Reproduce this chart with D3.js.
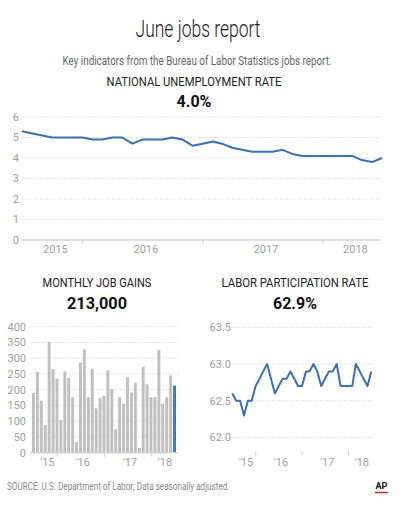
<!DOCTYPE html>
<html>
<head>
<meta charset="utf-8">
<script src="https://cdn.jsdelivr.net/npm/d3@7"></script>
<style>
  body { margin: 0; background: #fff; }
  text { font-family: Roboto, "Noto Sans", sans-serif; }
  .tick-label { fill: #a0a0a0; font-size: 11px; }
  .grid { stroke: #dcdcdc; stroke-width: 1; stroke-dasharray: 1.5 1.5; }
  .base { stroke: #d4d4d4; stroke-width: 1.5; }
  .tick { stroke: #cfcfcf; stroke-width: 1; }
  .line { fill: none; stroke: #3b6fb6; stroke-width: 2; stroke-linejoin: round; }
  .title { fill: #1a1a1a; font-size: 23px; font-weight: 300; }
  .sub { fill: #666; font-size: 13px; }
  .head { fill: #222; font-size: 12px; }
  .big { fill: #111; font-size: 17px; font-weight: 700; }
  .source { fill: #8a8a8a; font-size: 11px; }
</style>
</head>
<body>
<svg id="chart" width="400" height="511"></svg>
<script>
/* June jobs report — three small panels, data read off the AP graphic.
   Months run Jun 2015 .. Jun 2018 (37 points). */

const MONTHS = d3.timeMonth.range(new Date(2015, 5, 1), new Date(2018, 6, 1));

// national unemployment rate, %
const UNEMP = [5.3,5.2,5.1,5.0,5.0,5.0,5.0,4.9,4.9,5.0,5.0,4.7,4.9,4.9,4.9,5.0,4.9,
               4.6,4.7,4.8,4.7,4.5,4.4,4.3,4.3,4.3,4.4,4.2,4.1,4.1,4.1,4.1,4.1,4.1,
               3.9,3.8,4.0];

// monthly job gains, thousands
const JOBS = [190,257,165,88,352,266,235,104,258,237,176,34,287,328,176,266,141,174,
              181,261,202,74,176,156,240,191,222,15,273,217,176,177,326,156,176,245,213];

// labor force participation rate, %
const PART = [62.6,62.5,62.5,62.3,62.5,62.5,62.7,62.8,62.9,63.0,62.8,62.6,62.7,62.8,
              62.8,62.9,62.8,62.7,62.7,62.9,62.9,63.0,62.9,62.7,62.8,62.9,62.9,63.0,
              62.7,62.7,62.7,62.7,63.0,62.9,62.8,62.7,62.9];

const UNEMP_TICKS = [0,1,2,3,4,5,6];
const JOBS_TICKS  = [0,50,100,150,200,250,300,350,400];
const PART_TICKS  = [62.0,62.5,63.0,63.5];
const YEARS = [2015,2016,2017,2018];

const svg = d3.select("#chart");

// each monthly value is stamped at month end, so Jan 1 ticks sit on the Dec point
const monthEnd = m => d3.timeDay.offset(d3.timeMonth.offset(m, 1), -1);
const first = monthEnd(MONTHS[0]), last = monthEnd(MONTHS[MONTHS.length-1]);

/* squeeze a text horizontally to a given width (the AP face is condensed) */
function condensed(cls, cx, y, w, anchor, str){
  const t = svg.append("text").attr("class",cls).attr("text-anchor",anchor).text(str);
  const k = w / t.node().getComputedTextLength();
  t.attr("transform",`translate(${cx},${y}) scale(${k},1)`);
  return t;
}

/* ---- headers ---- */
condensed("title", 198, 37, 125, "middle", "June jobs report");
condensed("sub", 197, 65, 269, "middle", "Key indicators from the Bureau of Labor Statistics jobs report.");

function heading(cx, y1, y2, label, value, w1, w2){
  condensed("head", cx, y1, w1, "middle", label);
  condensed("big", cx, y2, w2, "middle", value);
}
heading(194, 86, 107, "NATIONAL UNEMPLOYMENT RATE", "4.0%", 175, 35);
heading(97, 287, 309, "MONTHLY JOB GAINS", "213,000", 109, 60);
heading(295, 287, 309, "LABOR PARTICIPATION RATE", "62.9%", 147, 44);

/* year labels sit in the middle of the visible part of each year */
function yearLabels(x, y, fmt, nudge){
  svg.append("g").selectAll("text").data(YEARS).enter().append("text")
    .attr("class","tick-label").attr("text-anchor","middle").attr("y",y)
    .attr("x", yr => {
      const a = d3.max([new Date(yr,0,1), x.domain()[0]]);
      const b = d3.min([new Date(yr+1,0,1), x.domain()[1]]);
      return (x(a)+x(b))/2 + nudge;
    })
    .text(fmt);
}
function yearTicks(x, y0, y1){
  svg.append("g").selectAll("line").data(YEARS.slice(1)).enter().append("line")
    .attr("class","tick")
    .attr("x1", yr => x(new Date(yr,0,1))).attr("x2", yr => x(new Date(yr,0,1)))
    .attr("y1",y0).attr("y2",y1);
}
function grid(y, ticks, x0, x1, lx, fmt){
  const g = svg.append("g");
  g.selectAll("line").data(ticks).enter().append("line")
    .attr("class","grid").attr("x1",x0).attr("x2",x1)
    .attr("y1",d=>y(d)).attr("y2",d=>y(d));
  g.selectAll("text").data(ticks).enter().append("text")
    .attr("class","tick-label").attr("text-anchor","end")
    .attr("x",lx).attr("y",d=>y(d)).attr("dy","0.36em").text(fmt);
}

/* ---- panel 1: unemployment rate ---- */
{
  const x = d3.scaleTime().domain([first,last]).range([22,382]);
  const y = d3.scaleLinear().domain([0,6]).range([240,117]);
  grid(y, UNEMP_TICKS.slice(1), 22, 381, 19, d=>d);
  svg.append("text").attr("class","tick-label").attr("text-anchor","end")
    .attr("x",19).attr("y",y(0)).attr("dy","0.36em").text(UNEMP_TICKS[0]);
  svg.append("line").attr("class","base").attr("x1",22).attr("x2",381)
    .attr("y1",y(0)).attr("y2",y(0));
  yearTicks(x, y(0), y(0)+4);
  yearLabels(x, 253, d=>d, 3);
  svg.append("path").datum(UNEMP).attr("class","line")
    .attr("d", d3.line().x((d,i)=>x(monthEnd(MONTHS[i]))).y(d=>y(d)));
}

/* ---- panel 2: monthly job gains ---- */
{
  const x = d3.scaleBand().domain(d3.range(JOBS.length)).range([32,176]).paddingInner(0.25);
  const y = d3.scaleLinear().domain([0,400]).range([452.7,326.7]);
  grid(y, JOBS_TICKS.slice(1), 30, 180, 26, d=>d);
  svg.append("text").attr("class","tick-label").attr("text-anchor","end")
    .attr("x",26).attr("y",y(0)).attr("dy","0.36em").text(JOBS_TICKS[0]);
  svg.append("g").selectAll("rect").data(JOBS).enter().append("rect")
    .attr("x",(d,i)=>x(i)).attr("width",x.bandwidth())
    .attr("y",d=>y(d)).attr("height",d=>y(0)-y(d))
    .attr("fill",(d,i)=> i===JOBS.length-1 ? "#3b78c4" : "#c0c0c0");
  svg.append("line").attr("class","base").attr("x1",30).attr("x2",178)
    .attr("y1",y(0)).attr("y2",y(0));
  // band scale -> time-like positions for the year ticks and labels
  const xt = d3.scaleTime().domain([first,last]).range([x(0)+x.bandwidth()/2, x(JOBS.length-1)+x.bandwidth()/2]);
  yearTicks(xt, y(0), y(0)+4);
  yearLabels(xt, 466, d=>"'"+String(d).slice(2), 2);
}

/* ---- panel 3: labor participation rate ---- */
{
  const x = d3.scaleTime().domain([first,last]).range([232.3,371.3]);
  const y = d3.scaleLinear().domain([62,63.5]).range([437.5,327.3]);
  grid(y, PART_TICKS, 233, 372, 231, d3.format(".1f"));
  yearTicks(x, 451.5, 455.5);
  yearLabels(x, 466, d=>"'"+String(d).slice(2), 2);
  svg.append("path").datum(PART).attr("class","line")
    .attr("d", d3.line().x((d,i)=>x(monthEnd(MONTHS[i]))).y(d=>y(d)));
}

/* ---- footer ---- */
condensed("source", 7, 490, 223, "start", "SOURCE: U.S. Department of Labor; Data seasonally adjusted.");
svg.append("text").attr("x",381.5).attr("y",489).attr("text-anchor","middle")
  .style("font-size","9px").style("font-weight",700).style("fill","#111").text("AP");
svg.append("line").attr("x1",375).attr("x2",388).attr("y1",492.5).attr("y2",492.5)
  .style("stroke","#d6262b").style("stroke-width",1.5);
</script>
</body>
</html>
